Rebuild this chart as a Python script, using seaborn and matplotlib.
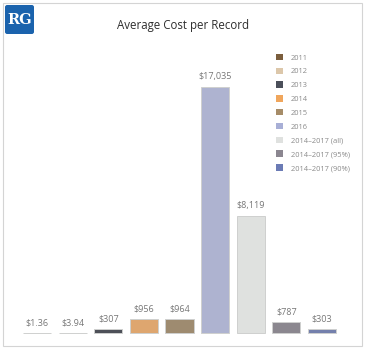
import matplotlib
matplotlib.use("Agg")
import matplotlib.pyplot as plt
import seaborn as sns
import pandas as pd
from matplotlib.patches import Rectangle, FancyBboxPatch, Patch

categories = ["2011", "2012", "2013", "2014", "2015", "2016",
              "2014\u20132017 (all)", "2014\u20132017 (95%)", "2014\u20132017 (90%)"]
costs = [1.36, 3.94, 307, 956, 964, 17035, 8119, 787, 303]
labels = ["$1.36", "$3.94", "$307", "$956", "$964", "$17,035", "$8,119", "$787", "$303"]
colors = ["#7b5e3d", "#dcc7aa", "#4b4f5a", "#f0a65c", "#a68c68",
          "#a8afd6", "#dfe1df", "#8b8690", "#6b7bb5"]

df = pd.DataFrame({"period": categories, "cost": costs})

sns.set_style("white")
plt.rcParams['font.family'] = ['Open Sans', 'DejaVu Sans']

fig = plt.figure(figsize=(3.66, 3.5), dpi=100)

# outer frame
fig.patches.append(Rectangle((3 / 366, 4 / 350), 359 / 366, 343 / 350,
                             transform=fig.transFigure, fill=False,
                             edgecolor="#d4d4d4", linewidth=0.8))
# logo
fig.patches.append(FancyBboxPatch((5 / 366, 316 / 350), 29 / 366, 29 / 350,
                                  boxstyle="round,pad=0,rounding_size=0.006",
                                  transform=fig.transFigure,
                                  facecolor="#1b63ad", edgecolor="none"))
fig.text(19.5 / 366, 330.5 / 350, "RG", color="white", fontsize=10.5,
         fontweight="bold", family="DejaVu Serif", ha="center", va="center")
fig.text(183 / 366, 325 / 350, "Average Cost per Record", fontsize=8.3,
         color="#2e2e2e", ha="center", va="center")

ax = fig.add_axes([19.2 / 366, 17 / 350, 320.6 / 366, 288.8 / 350])
sns.barplot(data=df, x="period", y="cost", hue="period", palette=colors,
            order=categories, hue_order=categories, dodge=False, width=0.79,
            legend=False, edgecolor="#cfd0cf", linewidth=0.7, ax=ax)
for p in ax.patches:
    p.set_clip_on(False)
ax.set_xlim(-0.5, 8.5)
ax.set_ylim(0, 20000)
ax.axis("off")

for i, (v, t) in enumerate(zip(costs, labels)):
    ax.annotate(t, (i, v), xytext=(0, 4), textcoords="offset points",
                ha="center", va="bottom", fontsize=6.5, color="#777777")

handles = [Patch(facecolor=c, edgecolor="none") for c in colors]
fig.legend(handles, categories, loc="upper left",
           bbox_to_anchor=(269 / 366, 303 / 350), frameon=False,
           fontsize=5.4, labelcolor="#8a8a8a", handlelength=0.95,
           handleheight=0.95, handletextpad=1.05, labelspacing=0.8)

fig.savefig("out.png", dpi=100)
